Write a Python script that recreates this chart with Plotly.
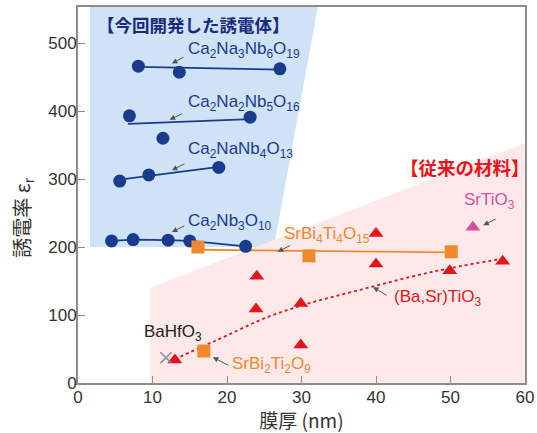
import plotly.graph_objects as go

# --- data -------------------------------------------------------------
# new dielectrics (film thickness nm, relative permittivity)
cnno19_x = [8.1, 13.6, 27.1]
cnno19_y = [466, 457, 462]
cnno19_fit_x = [8.1, 27.1]
cnno19_fit_y = [465, 461]

cnno16_x = [6.9, 11.4, 23.1]
cnno16_y = [393, 360, 391]
cnno16_fit_x = [6.7, 23.1]
cnno16_fit_y = [381, 388]

cnno13_x = [5.6, 9.5, 18.9]
cnno13_y = [297, 306, 317]
cnno13_fit_x = [5.6, 18.9]
cnno13_fit_y = [299, 318]

cno10_x = [4.5, 7.4, 12.1, 15.0, 22.5]
cno10_y = [209, 211, 210, 209, 201]

# conventional materials
sbt4_x = [16.1, 31.0, 50.1]
sbt4_y = [200, 187, 193]
sbt4_fit_x = [16.1, 50.1]
sbt4_fit_y = [196, 192]

sbt2_x = [16.9]
sbt2_y = [47]

bst_x = [13.0, 24.0, 23.9, 29.9, 29.9, 40.0, 40.0, 49.9, 57.0]
bst_y = [34, 157, 109, 117, 56, 220, 175, 165, 179]
bst_trend_x = [13, 17, 20, 25, 30, 35, 40, 45, 50, 57]
bst_trend_y = [35, 55, 70, 95, 114, 129, 143, 157, 169, 183]

sto_x = [53.0]
sto_y = [229]

bhf_x = [11.8]
bhf_y = [37]

# shaded regions
new_region_x = [1.6, 26.3, 32.3, 1.6]
new_region_y = [200, 200, 560, 560]
old_region_x = [9.7, 9.7, 60, 60]
old_region_y = [0, 140, 353, 0]

# --- styles -----------------------------------------------------------
NAVY = "#1b3c8c"
ORANGE = "#ef8a2c"
RED = "#e2161d"
MAGENTA = "#d6519c"
LATIN = "Liberation Sans, Arial, sans-serif"
CJK = "Noto Sans CJK JP, sans-serif"
AXIS = "#8c8c8c"

fig = go.Figure()

fig.add_trace(go.Scatter(x=new_region_x, y=new_region_y, fill="toself",
                         fillcolor="#cfe2f6", line=dict(width=0),
                         mode="lines", hoverinfo="skip"))
fig.add_trace(go.Scatter(x=old_region_x, y=old_region_y, fill="toself",
                         fillcolor="#fde9ea", line=dict(width=0),
                         mode="lines", hoverinfo="skip"))

# fitted lines
for fx, fy, col in [(cnno19_fit_x, cnno19_fit_y, NAVY),
                    (cnno16_fit_x, cnno16_fit_y, NAVY),
                    (cnno13_fit_x, cnno13_fit_y, NAVY),
                    (cno10_x, cno10_y, NAVY),
                    (sbt4_fit_x, sbt4_fit_y, ORANGE)]:
    fig.add_trace(go.Scatter(x=fx, y=fy, mode="lines",
                             line=dict(color=col, width=1.8)))

fig.add_trace(go.Scatter(x=bst_trend_x, y=bst_trend_y, mode="lines",
                         line=dict(color=RED, width=1.8, dash="dot",
                                   shape="spline")))

# markers
for mx, my in [(cnno19_x, cnno19_y), (cnno16_x, cnno16_y),
               (cnno13_x, cnno13_y), (cno10_x, cno10_y)]:
    fig.add_trace(go.Scatter(x=mx, y=my, mode="markers",
                             marker=dict(color=NAVY, size=13)))

fig.add_trace(go.Scatter(x=sbt4_x + sbt2_x, y=sbt4_y + sbt2_y, mode="markers",
                         marker=dict(color=ORANGE, size=13, symbol="square")))
fig.add_trace(go.Scatter(x=bst_x, y=bst_y, mode="markers",
                         marker=dict(color=RED, size=13, symbol="triangle-up")))
fig.add_trace(go.Scatter(x=sto_x, y=sto_y, mode="markers",
                         marker=dict(color=MAGENTA, size=13, symbol="triangle-up")))
fig.add_trace(go.Scatter(x=bhf_x, y=bhf_y, mode="markers",
                         marker=dict(color="#8a8a8a", size=11, symbol="x-thin",
                                     line=dict(color="#8a8a8a", width=1.5))))

# --- labels -----------------------------------------------------------
labels = [
    ("Ca<sub>2</sub>Na<sub>3</sub>Nb<sub>6</sub>O<sub>19</sub>", 14.5, 490, NAVY),
    ("Ca<sub>2</sub>Na<sub>2</sub>Nb<sub>5</sub>O<sub>16</sub>", 14.5, 412, NAVY),
    ("Ca<sub>2</sub>NaNb<sub>4</sub>O<sub>13</sub>", 14.5, 343, NAVY),
    ("Ca<sub>2</sub>Nb<sub>3</sub>O<sub>10</sub>", 14.5, 237, NAVY),
    ("SrBi<sub>4</sub>Ti<sub>4</sub>O<sub>15</sub>", 27.4, 218, ORANGE),
    ("SrBi<sub>2</sub>Ti<sub>2</sub>O<sub>9</sub>", 20.4, 27, ORANGE),
    ("BaHfO<sub>3</sub>", 8.6, 74, "#222222"),
    ("(Ba,Sr)TiO<sub>3</sub>", 42.1, 125, RED),
    ("SrTiO<sub>3</sub>", 51.6, 268, MAGENTA),
]
annotations = []
for txt, lx, ly, col in labels:
    annotations.append(dict(x=lx, y=ly, xref="x", yref="y", text=txt,
                            showarrow=False, xanchor="left", yanchor="middle",
                            font=dict(family=LATIN, size=17, color=col)))

# small pointer arrows (tip in data units, tail offset in px)
arrows = [
    (12.6, 470, 13, -7), (12.3, 387, 14, -7), (12.6, 313, 14, -7),
    (12.6, 222, 14, -7), (26.8, 193, 14, -7), (18.1, 38, 17, 9),
    (39.6, 141, 15, 9), (54.4, 232, 14, -7),
]
for tx, ty, axp, ayp in arrows:
    annotations.append(dict(x=tx, y=ty, xref="x", yref="y", text="",
                            showarrow=True, ax=axp, ay=ayp,
                            arrowhead=2, arrowsize=1.1, arrowwidth=1,
                            arrowcolor="#555555", standoff=0))

annotations.append(dict(x=2.3, y=528, xref="x", yref="y",
                        text="<b>【今回開発した誘電体】</b>",
                        showarrow=False, xanchor="left", yanchor="middle",
                        font=dict(family=CJK, size=17.5, color="#1a2a80")))
annotations.append(dict(x=43.0, y=318, xref="x", yref="y",
                        text="<b>【従来の材料】</b>",
                        showarrow=False, xanchor="left", yanchor="middle",
                        font=dict(family=CJK, size=18.5, color="#e8141c")))

# y-axis title, placed slightly below the plot centre
annotations.append(dict(x=-0.125, y=0.44, xref="paper", yref="paper",
                        text="誘電率 ε<sub>r</sub>", textangle=-90,
                        showarrow=False, xanchor="center", yanchor="middle",
                        font=dict(family=CJK, size=20, color="#333333")))

fig.update_layout(
    width=537, height=433,
    margin=dict(l=78, r=12, t=7, b=50),
    paper_bgcolor="white", plot_bgcolor="white",
    showlegend=False,
    annotations=annotations,
    font=dict(family=LATIN, size=17, color="#333333"),
)
fig.update_xaxes(range=[0, 60], tickvals=[0, 10, 20, 30, 40, 50, 60],
                 showgrid=False, zeroline=False, automargin=False,
                 showline=True, linecolor=AXIS, linewidth=1.8, mirror=True,
                 ticks="inside", ticklen=7, tickcolor=AXIS, tickwidth=1.3,
                 ticklabelstandoff=-2,
                 tickfont=dict(family=LATIN, size=17, color="#333333"),
                 title=dict(text="膜厚 (nm)", standoff=7,
                            font=dict(family=CJK, size=19, color="#333333")))
fig.update_yaxes(range=[0, 553], tickvals=[0, 100, 200, 300, 400, 500],
                 showgrid=False, zeroline=False, automargin=False,
                 showline=True, linecolor=AXIS, linewidth=1.8, mirror=True,
                 ticks="inside", ticklen=7, tickcolor=AXIS, tickwidth=1.3,
                 ticklabelstandoff=-4,
                 tickfont=dict(family=LATIN, size=17, color="#333333"))

fig.write_html("out.html")
